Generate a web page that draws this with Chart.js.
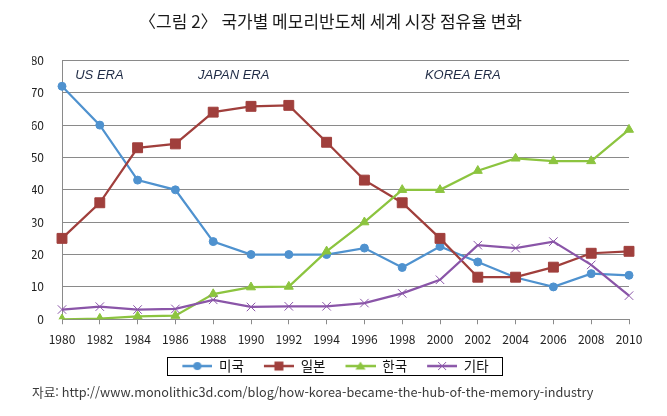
<!DOCTYPE html>
<html lang="ko">
<head>
<meta charset="utf-8">
<title>국가별 메모리반도체 세계 시장 점유율 변화</title>
<script src="https://cdn.jsdelivr.net/npm/chart.js@4.4.1/dist/chart.umd.min.js"></script>
<style>
  html, body { margin: 0; padding: 0; background: #fff; }
  canvas { display: block; }
</style>
</head>
<body>
<canvas id="shareChart" width="667" height="416"></canvas>
<script>
// 연도 (x축 항목)
const years = ['1980', '1982', '1984', '1986', '1988', '1990', '1992', '1994',
               '1996', '1998', '2000', '2002', '2004', '2006', '2008', '2010'];

// 국가별 점유율 (%)
const usShare    = [72, 60, 43, 40, 24, 20, 20, 20, 22, 16, 22.5, 17.7, 12.9, 10, 14.1, 13.6];
const japanShare = [25, 36, 53, 54.2, 64, 65.8, 66.1, 54.7, 43, 36, 25, 13, 13, 16.1, 20.4, 21];
const koreaShare = [0, 0.2, 0.9, 1.1, 7.8, 9.9, 10.1, 21, 30, 40, 40, 45.9, 49.7, 48.9, 48.9, 58.6];
const otherShare = [3, 3.9, 3, 3.2, 6, 3.8, 4, 4, 5, 8, 12.2, 22.9, 22, 24, 16.8, 7.3];

const seriesNames = ['미국', '일본', '한국', '기타'];
const yTicks = [0, 10, 20, 30, 40, 50, 60, 70, 80];
const eraNames = ['US ERA', 'JAPAN ERA', 'KOREA ERA'];

const titleText = '〈그림 2〉 국가별 메모리반도체 세계 시장 점유율 변화';
const sourceText = '자료: http://www.monolithic3d.com/blog/how-korea-became-the-hub-of-the-memory-industry';

const FONT = '"Noto Sans CJK KR", "Noto Sans", sans-serif';
const GRID = '#8a8a8a';

// 시리즈 스타일
const styles = [
  { color: '#4f92cf', point: 'circle',   radius: 4,   border: 1 },
  { color: '#a03f3c', point: 'rect',     radius: 7,   border: 1 },
  { color: '#8cc43f', point: 'triangle', radius: 5.2, border: 1 },
  { color: '#8a55a8', point: 'crossRot', radius: 6,   border: 1 }
];

// 범례 아이콘 (선 + 마커)
function legendIcon(st) {
  const c = document.createElement('canvas');
  c.width = 40; c.height = 14;
  const g = c.getContext('2d');
  g.strokeStyle = st.color;
  g.fillStyle = st.color;
  g.lineWidth = 2.5;
  g.beginPath(); g.moveTo(10, 7); g.lineTo(40, 7); g.stroke();
  g.lineWidth = 1;
  const cx = 25, cy = 7;
  g.beginPath();
  if (st.point === 'circle') {
    g.arc(cx, cy, 4, 0, Math.PI * 2); g.fill();
  } else if (st.point === 'rect') {
    g.fillRect(cx - 4.5, cy - 4.5, 9, 9);
  } else if (st.point === 'triangle') {
    g.moveTo(cx, cy - 4.5); g.lineTo(cx + 5, cy + 3.5); g.lineTo(cx - 5, cy + 3.5);
    g.closePath(); g.fill();
  } else {
    g.moveTo(cx - 4, cy - 4); g.lineTo(cx + 4, cy + 4);
    g.moveTo(cx + 4, cy - 4); g.lineTo(cx - 4, cy + 4); g.stroke();
  }
  return c;
}

// 시대 구분 텍스트
const eraLabels = {
  id: 'eraLabels',
  afterDatasetsDraw(chart) {
    const { ctx, scales: { x, y } } = chart;
    const at = [0.35, 3.6, 9.6];
    ctx.save();
    ctx.font = 'italic 13px "Liberation Sans", Arial, sans-serif';
    ctx.fillStyle = '#1f2b45';
    ctx.textAlign = 'left';
    ctx.textBaseline = 'middle';
    eraNames.forEach((t, i) => {
      ctx.fillText(t, x.getPixelForValue(at[i]), y.getPixelForValue(75.3));
    });
    ctx.restore();
  }
};

// 범례 테두리
const legendFrame = {
  id: 'legendFrame',
  afterDraw(chart) {
    const boxes = chart.legend.legendHitBoxes;
    if (!boxes || !boxes.length) return;
    const left = Math.min(...boxes.map(b => b.left)) - 5;
    const right = Math.max(...boxes.map(b => b.left + b.width)) + 14;
    const mid = boxes[0].top + boxes[0].height / 2;
    const ctx = chart.ctx;
    ctx.save();
    ctx.strokeStyle = '#000';
    ctx.lineWidth = 1;
    ctx.strokeRect(Math.round(left) + 0.5, Math.round(mid - 9.5) + 0.5, Math.round(right - left), 18);
    ctx.restore();
  }
};

const allShares = [usShare, japanShare, koreaShare, otherShare];

const datasets = allShares.map((vals, i) => ({
  label: seriesNames[i],
  data: vals,
  borderColor: styles[i].color,
  backgroundColor: styles[i].color,
  borderWidth: 2.25,
  pointStyle: styles[i].point,
  pointRadius: styles[i].radius,
  pointBorderWidth: styles[i].border,
  pointBackgroundColor: styles[i].color,
  pointBorderColor: styles[i].color,
  tension: 0,
  order: allShares.length - i
}));

const ctx = document.getElementById('shareChart').getContext('2d');

window.chart = new Chart(ctx, {
  type: 'line',
  data: { labels: years, datasets: datasets },
  options: {
    responsive: false,
    animation: false,
    layout: { padding: { left: 32, right: 38, top: 0, bottom: 16 } },
    scales: {
      x: {
        grid: { display: true, drawOnChartArea: false, drawTicks: true, tickLength: 5, color: GRID },
        border: { color: GRID },
        ticks: { color: '#222', font: { family: FONT, size: 12 }, padding: 8, maxRotation: 0, autoSkip: false },
        afterFit: s => { s.height = 30; }
      },
      y: {
        min: yTicks[0],
        max: yTicks[yTicks.length - 1],
        afterBuildTicks: s => { s.ticks = yTicks.map(v => ({ value: v })); },
        grid: { color: GRID, drawTicks: false },
        border: { color: GRID },
        ticks: { color: '#222', font: { family: FONT, size: 12 }, padding: 18 },
        afterFit: s => { s.width = 30; }
      }
    },
    plugins: {
      title: {
        display: true,
        text: titleText,
        color: '#1a1a1a',
        font: { family: FONT, size: 17, weight: 'normal' },
        padding: { top: 11, bottom: 29 }
      },
      subtitle: {
        display: true,
        position: 'bottom',
        align: 'start',
        text: sourceText,
        color: '#3a3a3a',
        font: { family: FONT, size: 12.7, weight: 'normal' },
        padding: { top: 2, bottom: 0 }
      },
      legend: {
        position: 'bottom',
        labels: {
          usePointStyle: true,
          pointStyleWidth: 40,
          padding: 10,
          color: '#111',
          font: { family: FONT, size: 13.5 },
          generateLabels: chart => chart.data.datasets.map((d, i) => ({
            text: d.label,
            pointStyle: legendIcon(styles[i]),
            fillStyle: styles[i].color,
            strokeStyle: styles[i].color,
            lineWidth: 0,
            fontColor: '#111',
            hidden: false,
            datasetIndex: i
          }))
        }
      },
      tooltip: { enabled: false }
    }
  },
  plugins: [eraLabels, legendFrame]
});
</script>
</body>
</html>
